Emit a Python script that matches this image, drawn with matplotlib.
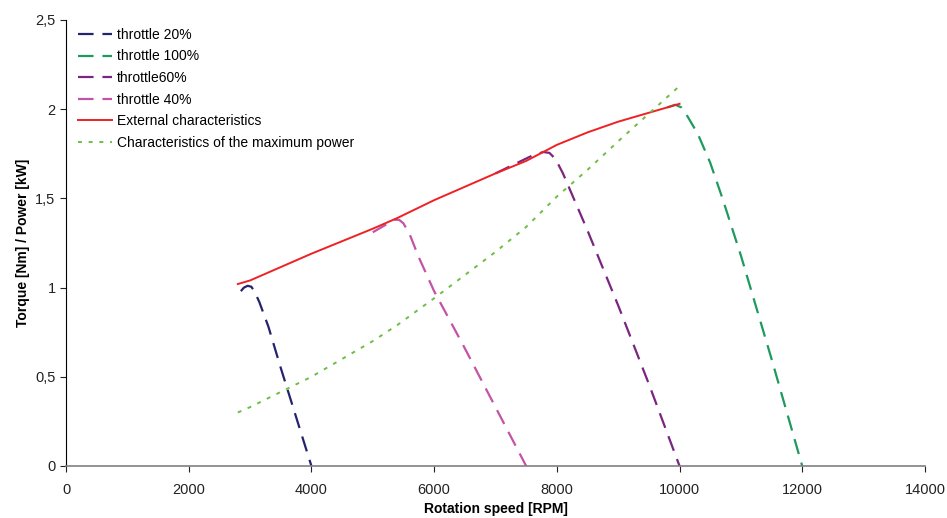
"""Torque / power characteristics vs rotation speed."""
import matplotlib

matplotlib.use("Agg")
import matplotlib.pyplot as plt
from matplotlib.ticker import FuncFormatter

plt.rcParams["font.family"] = ["Liberation Sans", "DejaVu Sans"]

# throttle curves (rpm, torque)
rpm_20 = [2850, 2900, 2960, 3020, 3070, 3150, 3300, 3500, 4000]
tq_20 = [0.98, 1.00, 1.01, 1.005, 0.98, 0.92, 0.78, 0.55, 0.0]

rpm_40 = [5000, 5200, 5350, 5430, 5500, 5600, 5750, 6000, 6500, 7000, 7500]
tq_40 = [1.31, 1.35, 1.38, 1.38, 1.36, 1.30, 1.17, 0.98, 0.66, 0.33, 0.0]

rpm_60 = [7000, 7300, 7600, 7780, 7880, 7980, 8100, 8250, 8500, 9000, 9500, 10000]
tq_60 = [1.64, 1.69, 1.74, 1.76, 1.755, 1.72, 1.64, 1.52, 1.32, 0.90, 0.46, 0.0]

rpm_100 = [9800, 9930, 10030, 10130, 10300, 10500, 10700, 11000, 11500, 12000]
tq_100 = [2.01, 2.025, 2.01, 1.96, 1.86, 1.70, 1.50, 1.18, 0.60, 0.0]

# external characteristics and maximum power
rpm_ext = [2800, 3000, 4000, 5000, 5400, 6000, 7000, 7500, 8000, 8500, 9000, 10000]
tq_ext = [1.02, 1.04, 1.19, 1.33, 1.39, 1.49, 1.64, 1.71, 1.80, 1.87, 1.93, 2.03]
pw_max = [0.30, 0.33, 0.50, 0.70, 0.79, 0.94, 1.20, 1.34, 1.51, 1.66, 1.82, 2.13]

fig = plt.figure(figsize=(9.47, 5.18), dpi=100)
ax = fig.add_axes([0.0697, 0.1004, 0.907, 0.861])

dash = (0, (7, 4))
ax.plot(rpm_20, tq_20, color="#23236E", lw=1.6, ls=dash, label="throttle 20%")
ax.plot(rpm_100, tq_100, color="#1E9A5E", lw=1.6, ls=dash, label="throttle 100%")
ax.plot(rpm_60, tq_60, color="#7A2580", lw=1.6, ls=dash, label="throttle60%")
ax.plot(rpm_40, tq_40, color="#C452A6", lw=1.6, ls=dash, label="throttle 40%")
ax.plot(rpm_ext, tq_ext, color="#EE2124", lw=1.4, label="External characteristics")
ax.plot(rpm_ext, pw_max, color="#6DBE45", lw=1.4, ls=(0, (2, 3.5)),
        label="Characteristics of the maximum power")

ax.set_xlim(0, 14000)
ax.set_ylim(0, 2.5)
ax.set_xticks(range(0, 14001, 2000))
ax.set_yticks([0, 0.5, 1, 1.5, 2, 2.5])
ax.yaxis.set_major_formatter(FuncFormatter(lambda v, _: f"{v:g}".replace(".", ",")))
ax.tick_params(labelsize=10.5, length=4, colors="#222222")
ax.tick_params(axis="x", pad=8)

ax.spines["top"].set_visible(False)
ax.spines["right"].set_visible(False)
ax.spines["bottom"].set_color("#808080")
ax.spines["bottom"].set_linewidth(1.2)

ax.set_xlabel("Rotation speed [RPM]", fontsize=10, fontweight="bold", labelpad=4)
ax.set_ylabel("Torque [Nm] / Power [kW]", fontsize=10, fontweight="bold", labelpad=4)

ax.legend(loc="upper left", frameon=False, fontsize=10, handlelength=2.4,
          labelspacing=0.55, borderaxespad=0.0, bbox_to_anchor=(0.008, 0.995),
          handletextpad=0.4)

fig.savefig("out.png", dpi=100)
